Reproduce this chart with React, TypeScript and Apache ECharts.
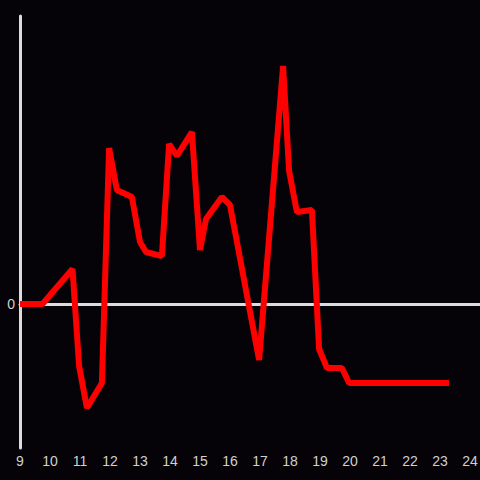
import React, { useEffect, useRef } from "react";
import * as echarts from "echarts";

const hours = [
  9.0, 9.75, 10.75, 10.97, 11.23, 11.73, 11.97, 12.23, 12.73, 13.0, 13.2, 13.73,
  13.97, 14.23, 14.73, 15.0, 15.2, 15.73, 16.0, 16.97, 17.77, 17.97, 18.23, 18.73,
  18.97, 19.23, 19.73, 19.97, 23.3,
];
const values = [
  0, 0, 24.3, -43, -72.2, -54.9, 108.3, 79.2, 74.3, 43.1, 36.1, 33.3,
  111.1, 102.8, 119.4, 37.5, 59.0, 74.3, 68.75, -38.9, 165.3, 92.4, 63.9, 65.3,
  -31.25, -44.4, -44.4, -54.9, -54.9,
];
const xMin = 9;
const xMax = 24.333;
const yMin = -100;
const yMax = 200;

export default function App() {
  const ref = useRef<HTMLDivElement>(null);
  useEffect(() => {
    if (!ref.current) return;
    const chart = echarts.init(ref.current, null, { renderer: "svg" });
    const data = hours.map((h, i) => [h, values[i]]);
    const labelFmt = (v: number) =>
      Math.abs(v - Math.round(v)) < 1e-6 ? String(Math.round(v)) : "";
    chart.setOption({
      animation: false,
      backgroundColor: "#050307",
      grid: {
        left: 20,
        right: 0,
        top: 16,
        bottom: 32,
        containLabel: false,
        outerBoundsMode: "none",
      },
      xAxis: [
        {
          type: "value",
          position: "bottom",
          min: xMin,
          max: xMax,
          interval: 1,
          axisLine: { show: false, onZero: false },
          axisTick: { show: false },
          splitLine: { show: false },
          axisLabel: {
            color: "#d0d0d0",
            fontSize: 14,
            fontFamily: "Liberation Sans, Arial, sans-serif",
            margin: 6,
            showMaxLabel: false,
            hideOverlap: false,
            formatter: labelFmt,
          },
        },
        {
          type: "value",
          position: "bottom",
          min: xMin,
          max: xMax,
          interval: 1,
          axisLine: { show: true, onZero: true, lineStyle: { color: "#dcdcdc", width: 3 } },
          axisTick: { show: false },
          splitLine: { show: false },
          axisLabel: { show: false },
        },
      ],
      yAxis: {
        type: "value",
        min: yMin,
        max: yMax,
        interval: 100,
        axisLine: { show: true, lineStyle: { color: "#dcdcdc", width: 3 } },
        axisTick: { show: false },
        splitLine: { show: false },
        axisLabel: {
          color: "#d0d0d0",
          fontSize: 14,
          fontFamily: "Liberation Sans, Arial, sans-serif",
          margin: 5,
          formatter: (v: number) => (v === 0 ? "0" : ""),
        },
      },
      series: [
        {
          type: "line",
          xAxisIndex: 0,
          data,
          showSymbol: false,
          symbol: "none",
          lineStyle: { color: "#ff0000", width: 6 },
        },
      ],
    });
    return () => chart.dispose();
  }, []);
  return (
    <div
      ref={ref}
      style={{ position: "fixed", left: 0, top: 0, width: 480, height: 480 }}
    />
  );
}
